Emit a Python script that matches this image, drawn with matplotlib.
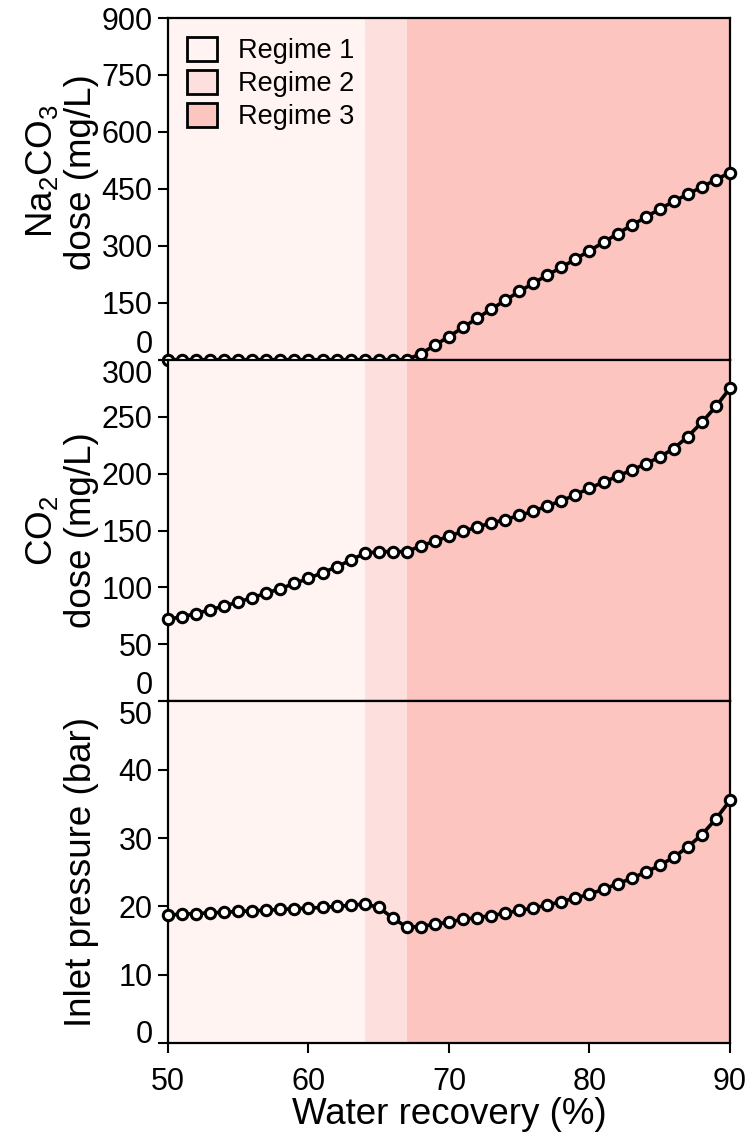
import matplotlib

matplotlib.use("Agg")
import matplotlib.pyplot as plt
from matplotlib.patches import Patch

plt.rcParams["font.family"] = ["Liberation Sans", "DejaVu Sans"]
plt.rcParams["mathtext.fontset"] = "custom"
plt.rcParams["mathtext.rm"] = "Liberation Sans"
plt.rcParams["mathtext.it"] = "Liberation Sans:italic"
plt.rcParams["mathtext.default"] = "regular"

# water recovery (%), one point per percent
recovery = list(range(50, 91))

na2co3_dose = [
    0, 0, 0, 0, 0, 0, 0, 0, 0, 0,
    0, 0, 0, 0, 0, 0, 0, 0, 16, 38,
    61, 85, 109, 133, 156, 180, 201, 223, 243, 265,
    287, 309, 332, 354, 375, 397, 417, 436, 455, 474,
    493,
]
co2_dose = [
    72, 74.4, 77, 80.5, 83.7, 87.2, 91, 95, 99, 103.5,
    108, 113, 118, 124, 130, 131.5, 131.5, 131.5, 136.5, 140.6,
    145, 149.3, 153, 156.6, 159.5, 163.3, 166.8, 171.7, 176, 181.4,
    187.2, 192.5, 197.7, 203, 208.5, 214.6, 222, 232.5, 245, 259,
    275,
]
inlet_pressure = [
    18.75, 18.85, 18.95, 19.05, 19.15, 19.25, 19.35, 19.45, 19.55, 19.65,
    19.75, 19.85, 20.0, 20.15, 20.35, 19.85, 18.3, 16.95, 17.05, 17.4,
    17.7, 18.1, 18.35, 18.65, 19.0, 19.4, 19.75, 20.2, 20.7, 21.2,
    21.8, 22.5, 23.3, 24.1, 25.0, 26.0, 27.2, 28.7, 30.5, 32.8,
    35.5,
]

regime_bounds = [50, 64, 67, 90]
regime_labels = ["Regime 1", "Regime 2", "Regime 3"]
regime_colors = ["#fff4f1", "#fde0dd", "#fcc5c0"]

panels = [
    (na2co3_dose, "Na$_2$CO$_3$\ndose (mg/L)", list(range(0, 901, 150)), (0, 900), 0.55),
    (co2_dose, "CO$_2$\ndose (mg/L)", list(range(0, 301, 50)), (0, 300), 0.5),
    (inlet_pressure, "Inlet pressure (bar)", list(range(0, 51, 10)), (0, 50), 0.5),
]

fig = plt.figure(figsize=(7.52, 11.33), dpi=100)
gs = fig.add_gridspec(3, 1, left=0.2234, right=0.9707, top=0.9841, bottom=0.0794, hspace=0)

axes = []
for i, (values, label, yticks, ylim, label_y) in enumerate(panels):
    ax = fig.add_subplot(gs[i, 0], sharex=axes[0] if axes else None)
    axes.append(ax)
    for j, color in enumerate(regime_colors):
        ax.axvspan(regime_bounds[j], regime_bounds[j + 1], color=color, lw=0, zorder=0)
    ax.plot(recovery, values, color="black", lw=2.6, marker="o", markersize=7.5,
            markerfacecolor="white", markeredgecolor="black", markeredgewidth=2.2,
            clip_on=False, zorder=3)
    ax.set_ylim(*ylim)
    ax.set_yticks(yticks)
    ax.set_ylabel(label, fontsize=26.5, linespacing=1.15)
    ax.yaxis.set_label_coords(-0.123, label_y)
    ax.tick_params(axis="y", direction="out", length=7, width=1.5, labelsize=22, pad=4)
    for side in ax.spines.values():
        side.set_linewidth(1.6)

    # keep the end labels off the neighbouring panels
    ticks = ax.yaxis.get_major_ticks()
    ticks[0].label1.set_va("bottom" if i < 2 else "baseline")
    if i > 0:
        ticks[-1].label1.set_va("top")

    if i < 2:
        ax.tick_params(axis="x", bottom=False, labelbottom=False)

axes[0].set_xlim(50, 90)
axes[-1].set_xticks([50, 60, 70, 80, 90])
axes[-1].tick_params(axis="x", direction="out", length=7, width=1.5, labelsize=22, pad=10)
axes[-1].set_xlabel("Water recovery (%)", fontsize=26.5, labelpad=0)

handles = [Patch(facecolor=c, edgecolor="black", linewidth=2, label=l)
           for c, l in zip(regime_colors, regime_labels)]
axes[0].legend(handles=handles, loc="upper left", frameon=False, fontsize=19.5,
               handlelength=1.1, handleheight=1.0, handletextpad=0.8,
               labelspacing=0.2, borderaxespad=0.3)

fig.savefig("out.png", dpi=100)
